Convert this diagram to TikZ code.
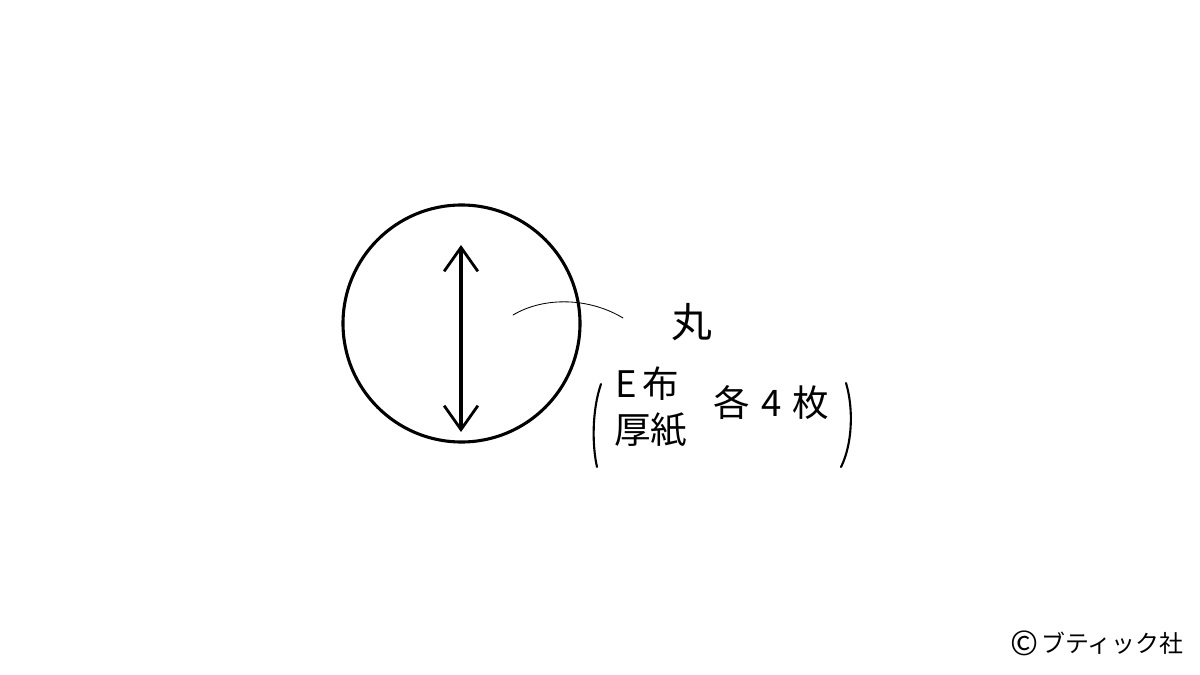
\documentclass[tikz,border=0pt]{standalone}
\usepackage{fontspec}
\setmainfont{Noto Sans CJK JP}
\usetikzlibrary{arrows.meta}
\tikzset{
  partlabel/.style={inner sep=0pt, font=\fontsize{26}{30}\selectfont},
  leader/.style={line width=0.6pt},
}
\begin{document}
\begin{tikzpicture}[x=0.025cm,y=-0.025cm,line cap=round,
    >={Straight Barb[length=17pt,width=24pt,line width=2pt]}]
    \useasboundingbox (0,0) rectangle (1200,675);

    % draw the circle pattern
    \draw[line width=2.2pt] (461.5,323.5) circle(118.5);

    % draw the grain arrow
    \coordinate (grainTop) at (461,245);
    \coordinate (grainBot) at (461,432);
    \draw[<->, line width=2.2pt] (grainTop) -- (grainBot);

    % draw the labels
    \node[partlabel, font=\fontsize{29}{30}\selectfont] (maru) at (692,322) {丸};
    \node[partlabel, anchor=west] (nuno) at (615,384) {E\,布};
    \node[partlabel, anchor=west] (atsugami) at (614,430) {厚紙};
    \node[partlabel, anchor=west] (kaku) at (713,403) {各\hspace{8pt}4\hspace{8pt}枚};

    % draw the leader line
    \coordinate (leadStart) at (513,315);
    \coordinate (leadEnd) at (623,318);
    \draw[leader] (leadStart) .. controls (545,296) and (590,298) .. (leadEnd);

    % draw the brackets
    \draw[line width=1.5pt] (601,384) .. controls (592,410) and (592,445) .. (597,467);
    \draw[line width=1.5pt] (846,383) .. controls (854,410) and (852,445) .. (841,467);

    % draw the credit
    \node[inner sep=0pt, font=\fontsize{17}{22}\selectfont] (credit) at (1097,643)
        {\raisebox{-0.12em}{\fontsize{24}{24}\selectfont ©}\hspace{2pt}ブティック社};
\end{tikzpicture}
\end{document}
